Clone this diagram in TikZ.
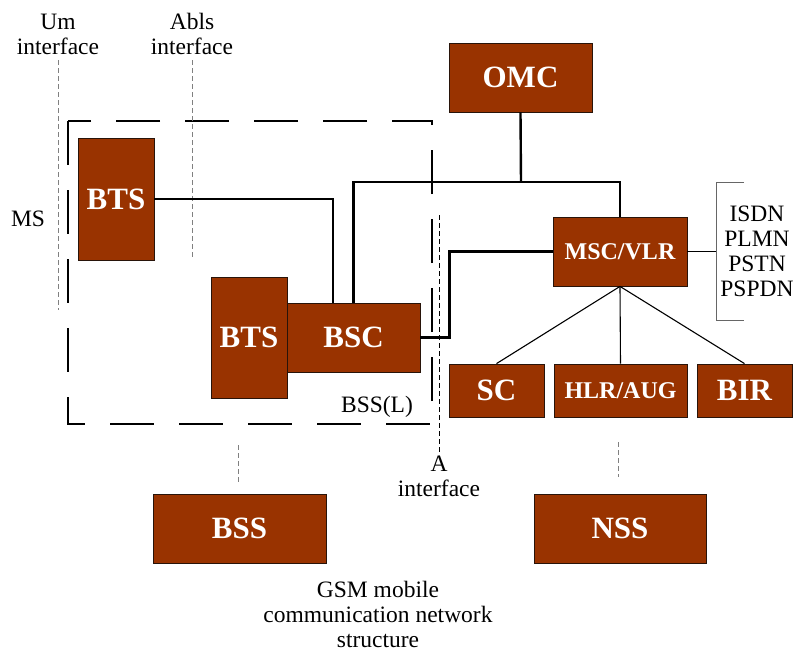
\documentclass[tikz,border=0pt]{standalone}
\usepackage{fontspec}
\setmainfont{Liberation Serif}
\usetikzlibrary{calc}
\definecolor{boxfill}{RGB}{153,51,0}
\definecolor{boxline}{RGB}{40,20,10}
\tikzset{
  unit/.style={draw=boxline, line width=0.8pt, fill=boxfill, text=white, font=\bfseries\fontsize{31}{31}\selectfont, inner sep=0pt},
  smallunit/.style={unit, font=\bfseries\fontsize{24}{24}\selectfont},
  lbl/.style={font=\fontsize{23.5}{25}\selectfont, align=center, inner sep=0pt, text=black},
  thickline/.style={line width=2.4pt},
  thinline/.style={line width=1.1pt},
  ifline/.style={gray, line width=1pt, dash pattern=on 5pt off 3pt},
  bssbox/.style={line width=2.3pt, dash pattern=on 44pt off 25pt},
}
\begin{document}
\begin{tikzpicture}[x=1pt,y=-1pt]
\useasboundingbox (0,0) rectangle (796,651);

% dashed BSS(L) box
\draw[bssbox] (68,121) rectangle (432,424);

% interface lines
\draw[ifline] (58,60) -- (58,310);
\draw[ifline] (192,60) -- (192,257);
\draw[ifline, black, line width=0.8pt] (439,215) -- (439,455);

% units
\node[unit, minimum width=143, minimum height=69] (OMC) at (520.5,77.5) {OMC};
\node[unit, minimum width=76, minimum height=122] (BTSa) at (116,199) {BTS};
\node[unit, minimum width=76, minimum height=121] (BTSb) at (249,337.5) {BTS};
\node[unit, minimum width=133, minimum height=69] (BSC) at (353.5,337.5) {BSC};
\node[smallunit, minimum width=134, minimum height=69] (MSC) at (620,251.5) {MSC/VLR};
\node[unit, minimum width=95, minimum height=53] (SC) at (496.5,390.5) {SC};
\node[smallunit, minimum width=133, minimum height=53] (HLR) at (620.5,390.5) {HLR/AUG};
\node[unit, minimum width=95, minimum height=53] (BIR) at (744.5,390.5) {BIR};
\node[unit, minimum width=173, minimum height=69] (BSS) at (239.5,528.5) {BSS};
\node[unit, minimum width=172, minimum height=69] (NSS) at (620,528.5) {NSS};

% connectors
\coordinate (bus) at (521,182);
\draw[thickline] (OMC.south) -- (bus);
\draw[thickline] (BSC.north) |- (bus) -| (MSC.north);
\draw[thinline] (BTSa.east) -| ([xshift=-20.5pt]BSC.north);
\draw[thickline] (BSC.east) -- ++(29,0) |- (MSC.west);
\draw[thinline] (MSC.south) -- (SC.north);
\draw[thinline] (MSC.south) -- (HLR.north);
\draw[thinline] (MSC.south) -- (BIR.north);

% external networks
\coordinate (brk) at (716,251.5);
\draw[thinline] (MSC.east) -- (brk);
\draw[gray!80!black, line width=1pt] (744,182) -- (716,182) -- (716,320) -- (744,320);
\node[lbl] (nets) at (757,251.5) {ISDN\\PLMN\\PSTN\\PSPDN};

% lower dashed links
\draw[ifline] (238,445) -- (238,483);
\draw[ifline] (618,442) -- (618,477);

% labels
\node[lbl] (um) at (58,34) {Um\\interface};
\node[lbl] (abls) at (192,34) {Abls\\interface};
\node[lbl] (ms) at (28,219) {MS};
\node[lbl] (bssl) at (377,407) {BSS(L)};
\node[lbl] (aif) at (439,476) {A\\interface};
\node[lbl] (title) at (378,614) {GSM mobile\\communication network\\structure};
\end{tikzpicture}
\end{document}
